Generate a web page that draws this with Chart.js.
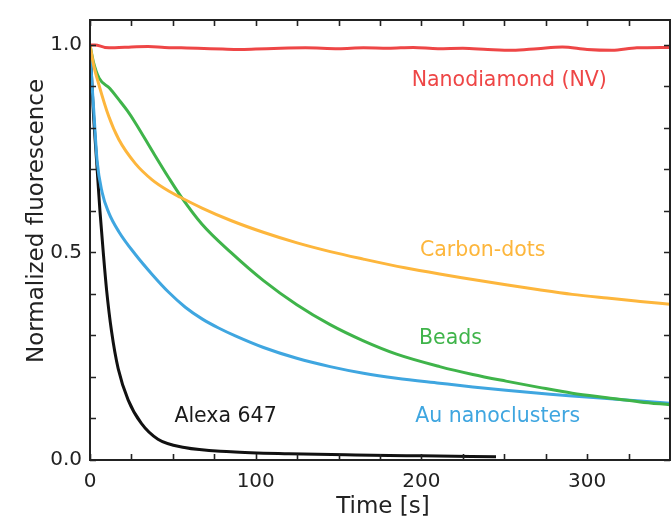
<!DOCTYPE html>
<html>
<head>
<meta charset="utf-8">
<script src="https://cdn.jsdelivr.net/npm/chart.js@4"></script>
<style>
  html, body { margin: 0; padding: 0; background: #fff; }
  #wrap { width: 671px; height: 519px; }
</style>
</head>
<body>
<div id="wrap"><canvas id="chartCanvas" width="671" height="519"></canvas></div>
<script>
// --- data (time in s, normalized fluorescence) ---
const tNano = [0, 3, 9, 15, 25, 35, 45, 55, 65, 80, 90, 100, 115, 130, 150, 165, 180, 195, 210, 225, 240, 255, 270, 285, 300, 315, 330, 350];
const nano  = [1.0, 1.0, 0.994, 0.993, 0.995, 0.996, 0.994, 0.993, 0.992, 0.990, 0.989, 0.990, 0.992, 0.993, 0.991, 0.993, 0.992, 0.994, 0.991, 0.992, 0.989, 0.987, 0.991, 0.995, 0.989, 0.987, 0.993, 0.994];

const tCarbon = [0, 2, 5.3, 11.3, 17.4, 27.4, 37.5, 47.5, 54.5, 67.6, 85, 105, 125, 145, 165, 190, 211, 231, 251, 271, 291, 312, 332, 350];
const carbon  = [1.0, 0.955, 0.905, 0.828, 0.772, 0.714, 0.675, 0.648, 0.633, 0.607, 0.577, 0.548, 0.523, 0.502, 0.484, 0.463, 0.448, 0.435, 0.422, 0.410, 0.399, 0.390, 0.382, 0.375];

const tBeads = [0, 2, 5.5, 12, 17.4, 22.4, 27.4, 37.5, 47.5, 54.5, 67.6, 85, 104.7, 124.8, 144.9, 165, 185, 211, 231, 251, 271, 291, 312, 332, 350];
const beads  = [1.0, 0.96, 0.92, 0.895, 0.868, 0.842, 0.812, 0.745, 0.68, 0.637, 0.568, 0.5, 0.432, 0.374, 0.326, 0.287, 0.255, 0.225, 0.206, 0.19, 0.175, 0.161, 0.15, 0.14, 0.133];

const tAu = [0, 1, 2.3, 4.3, 7.3, 11.3, 17.4, 27.4, 37.5, 47.5, 57.5, 67.6, 77.6, 87.7, 104.7, 124.8, 144.9, 165, 185, 211, 231, 251, 271, 291, 312, 332, 350];
const au  = [1.0, 0.92, 0.84, 0.72, 0.645, 0.596, 0.55, 0.495, 0.447, 0.404, 0.368, 0.340, 0.318, 0.299, 0.271, 0.245, 0.225, 0.209, 0.197, 0.185, 0.176, 0.168, 0.161, 0.154, 0.148, 0.142, 0.137];

const tAlexa = [0, 2, 4, 6, 8, 10, 13, 17, 23, 31, 41, 57, 85, 120, 160, 200, 245];
const alexa  = [1.0, 0.84, 0.72, 0.60, 0.5, 0.41, 0.31, 0.22, 0.145, 0.088, 0.05, 0.03, 0.02, 0.015, 0.012, 0.01, 0.008];

// tick labels and tick marks
const xTicks = [0, 100, 200, 300];
const yTicks = [0, 0.5, 1.0];
const xMarks = [0, 25, 50, 75, 100, 125, 150, 175, 200, 225, 250, 275, 300, 325, 350];
const yMarks = [0, 0.1, 0.2, 0.3, 0.4, 0.5, 0.6, 0.7, 0.8, 0.9, 1.0];

// curve labels: [text, time, value, colour]
const labels = [
  ["Nanodiamond (NV)", 253, 0.90, "#ee4646"],
  ["Carbon-dots", 237, 0.492, "#fdb63c"],
  ["Beads", 217.5, 0.279, "#3fb44a"],
  ["Au nanoclusters", 246, 0.091, "#3fa6e0"],
  ["Alexa 647", 81.8, 0.091, "#1a1a1a"]
];

const xTitle = "Time [s]";
const yTitle = "Normalized fluorescence";

const FONT = "'DejaVu Sans', Verdana, sans-serif";

function pts(ts, vs) {
  return ts.map((t, i) => ({ x: t, y: vs[i] }));
}

function series(label, ts, vs, color) {
  return {
    label,
    data: pts(ts, vs),
    borderColor: color,
    backgroundColor: color,
    borderWidth: 3,
    pointRadius: 0,
    cubicInterpolationMode: "monotone",
    fill: false
  };
}

// frame + inward ticks on all four sides, axis titles, curve labels
const framePlugin = {
  id: "frame",
  afterDatasetsDraw(chart) {
    const { ctx, chartArea: a, scales: { x, y } } = chart;
    ctx.save();
    ctx.strokeStyle = "#222";
    ctx.lineWidth = 2;
    ctx.strokeRect(a.left, a.top, a.right - a.left, a.bottom - a.top);
    ctx.lineWidth = 1.6;
    ctx.beginPath();
    xMarks.forEach(v => {
      const px = Math.round(x.getPixelForValue(v)) + 0.5;
      ctx.moveTo(px, a.bottom); ctx.lineTo(px, a.bottom - 6);
      ctx.moveTo(px, a.top); ctx.lineTo(px, a.top + 6);
    });
    yMarks.forEach(v => {
      const py = Math.round(y.getPixelForValue(v)) + 0.5;
      ctx.moveTo(a.left, py); ctx.lineTo(a.left + 6, py);
      ctx.moveTo(a.right, py); ctx.lineTo(a.right - 6, py);
    });
    ctx.stroke();

    // axis titles
    ctx.fillStyle = "#222";
    ctx.font = "23px " + FONT;
    ctx.textAlign = "center";
    ctx.textBaseline = "alphabetic";
    ctx.fillText(xTitle, 383, 513);
    ctx.save();
    ctx.translate(43, 221);
    ctx.rotate(-Math.PI / 2);
    ctx.fillText(yTitle, 0, 0);
    ctx.restore();

    ctx.font = "20.5px " + FONT;
    labels.forEach(([txt, t, v, c]) => {
      ctx.fillStyle = c;
      ctx.fillText(txt, x.getPixelForValue(t), y.getPixelForValue(v));
    });
    ctx.restore();
  }
};

const canvas = document.getElementById("chartCanvas");

new Chart(canvas, {
  type: "line",
  data: {
    datasets: [
      series("Nanodiamond (NV)", tNano, nano, "#ee4646"),
      series("Carbon-dots", tCarbon, carbon, "#fdb63c"),
      series("Beads", tBeads, beads, "#3fb44a"),
      series("Au nanoclusters", tAu, au, "#3fa6e0"),
      series("Alexa 647", tAlexa, alexa, "#111111")
    ]
  },
  options: {
    responsive: false,
    animation: false,
    layout: { padding: { top: 15, right: 1, left: 0, bottom: 0 } },
    plugins: {
      legend: { display: false },
      tooltip: { enabled: false }
    },
    scales: {
      x: {
        type: "linear",
        min: 0,
        max: 350,
        afterBuildTicks: s => { s.ticks = xTicks.map(v => ({ value: v })); },
        afterFit: s => { s.height = 59; },
        grid: { display: false, drawTicks: false },
        border: { display: false },
        ticks: {
          color: "#222",
          font: { family: FONT, size: 20 },
          padding: 10,
          maxRotation: 0
        },
        title: { display: false }
      },
      y: {
        min: 0,
        max: 1.06,
        afterBuildTicks: s => { s.ticks = yTicks.map(v => ({ value: v })); },
        afterFit: s => { s.width = 90; },
        grid: { display: false, drawTicks: false },
        border: { display: false },
        ticks: {
          color: "#222",
          font: { family: FONT, size: 20 },
          padding: 8,
          callback: v => v.toFixed(1)
        },
        title: { display: false }
      }
    }
  },
  plugins: [framePlugin]
});
</script>
</body>
</html>
